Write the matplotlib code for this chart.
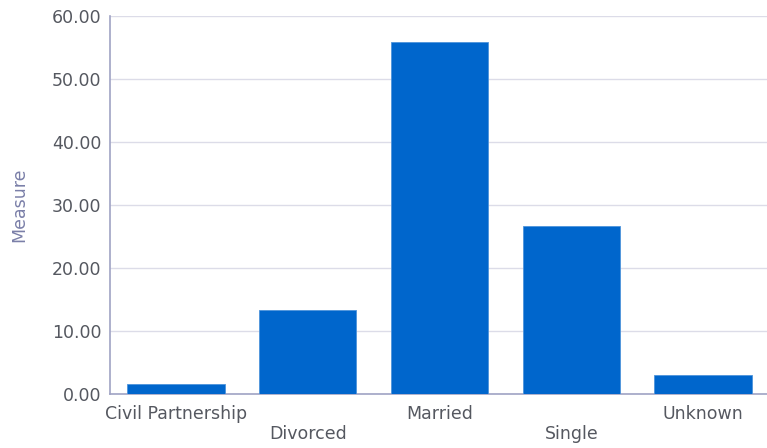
import matplotlib
matplotlib.use("Agg")
import matplotlib.pyplot as plt

plt.rcParams["font.family"] = ["DejaVu Sans"]

categories = ["Civil Partnership", "Divorced", "Married", "Single", "Unknown"]
values = [1.6, 13.3, 55.9, 26.7, 3.0]

fig = plt.figure(figsize=(7.67, 4.48), dpi=100)
ax = fig.add_axes([110/767, 1-394/448, 659/767, 378/448])
x = list(range(len(categories)))
ax.bar(x, values, width=0.74, color="#0066cc", edgecolor="#4d94db", linewidth=0.6, zorder=3)
ax.set_xlim(-0.5, 4.5)
ax.set_ylim(0, 60)
ax.set_yticks(range(0, 61, 10))
ax.set_yticklabels([f"{v:.2f}" for v in range(0, 61, 10)], color="#555860", fontsize=12.5)
ax.grid(axis="y", color="#dcdce8", linewidth=1, zorder=0)
ax.set_xticks(x)
ax.set_xticklabels([])
for i, c in enumerate(categories):
    off = 0 if i % 2 == 0 else 20
    ax.annotate(c, (i, 0), xycoords=("data", "data"), xytext=(0, -20 - off),
                textcoords="offset pixels", ha="center", va="center",
                fontsize=12.5, color="#555860")
for s in ["top", "right"]:
    ax.spines[s].set_visible(False)
ax.spines["left"].set_color("#a0a3c4")
ax.spines["bottom"].set_color("#a0a3c4")
ax.spines["left"].set_linewidth(1.2)
ax.spines["bottom"].set_linewidth(1.2)
ax.tick_params(axis="both", length=0, pad=6)
ax.set_ylabel("Measure", color="#7a7fa8", fontsize=12.5, labelpad=17)
fig.savefig("out.png", dpi=100)
